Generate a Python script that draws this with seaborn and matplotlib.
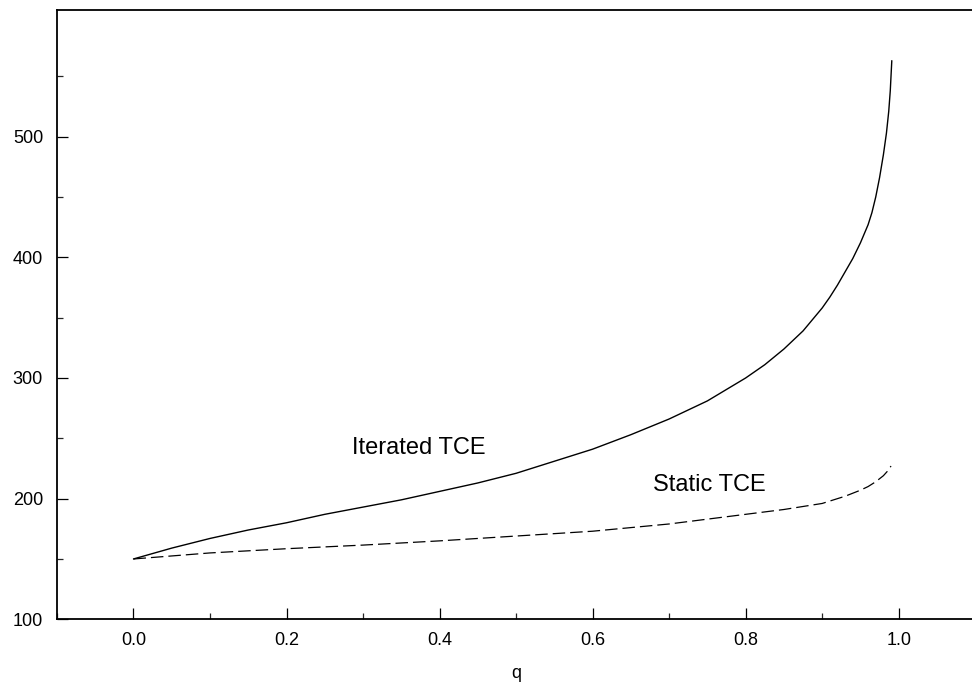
import pandas as pd
import matplotlib
matplotlib.use("Agg")
import matplotlib.pyplot as plt
import seaborn as sns
from matplotlib.ticker import MultipleLocator, FixedLocator

# valores
q_iterated = [0.0, 0.05, 0.1, 0.15, 0.2, 0.25, 0.3, 0.35, 0.4, 0.45, 0.5, 0.55,
              0.6, 0.65, 0.7, 0.75, 0.8, 0.825, 0.85, 0.875, 0.9, 0.91, 0.92,
              0.93, 0.94, 0.95, 0.96, 0.965, 0.97, 0.975, 0.98, 0.984, 0.987,
              0.989, 0.991]
tce_iterated = [150, 159, 167, 174, 180, 187, 193, 199, 206, 213, 221, 231,
                241, 253, 266, 281, 300, 311, 324, 339, 358, 367, 377,
                388, 399, 412, 427, 437, 450, 466, 485, 503, 521,
                538, 563]

q_static = [0.0, 0.1, 0.2, 0.3, 0.4, 0.5, 0.6, 0.7, 0.8, 0.85, 0.9, 0.93,
            0.95, 0.96, 0.97, 0.98, 0.985, 0.99]
tce_static = [150, 155, 158.5, 161.5, 165, 169, 173, 179, 187, 191, 196, 202,
              207, 210, 214, 219, 222.5, 227]

x_label = "q"
label_iterated = "Iterated TCE"
label_static = "Static TCE"
x_ticks = [0.0, 0.2, 0.4, 0.6, 0.8, 1.0]
y_ticks = [100, 200, 300, 400, 500]
y_minor = [150, 250, 350, 450, 550]

df_it = pd.DataFrame({"q": q_iterated, "tce": tce_iterated})
df_st = pd.DataFrame({"q": q_static, "tce": tce_static})

sns.set_theme(style="ticks")
plt.rcParams['font.family'] = ['Liberation Sans', 'DejaVu Sans']

fig = plt.figure(figsize=(9.72, 6.84), dpi=100)
ax = fig.add_axes([0.0586, 0.0946, 0.9447, 0.8908])

sns.lineplot(data=df_it, x="q", y="tce", ax=ax, color="black", linewidth=1.0,
             estimator=None, sort=False)
sns.lineplot(data=df_st, x="q", y="tce", ax=ax, color="black", linewidth=0.9,
             estimator=None, sort=False)
ax.lines[1].set_dashes([10, 4])

ax.text(0.373, 242, label_iterated, fontsize=17, ha="center", va="center", color="black")
ax.text(0.752, 211.5, label_static, fontsize=17, ha="center", va="center", color="black")

ax.set_xlim(-0.1, 1.1)
ax.set_ylim(100, 605)
ax.set_xticks(x_ticks)
ax.set_xticklabels([f"{v:.1f}" for v in x_ticks])
ax.set_yticks(y_ticks)
ax.set_yticklabels([str(v) for v in y_ticks])
ax.xaxis.set_minor_locator(MultipleLocator(0.1))
ax.yaxis.set_minor_locator(FixedLocator(y_minor))

ax.tick_params(axis="both", which="major", direction="in", length=8, width=0.9,
               labelsize=13, colors="black", pad=9)
ax.tick_params(axis="both", which="minor", direction="in", length=4, width=0.9)
ax.tick_params(axis="y", which="major", pad=10)

for s in ax.spines.values():
    s.set_linewidth(1.3)
    s.set_color("black")

ax.set_xlabel(x_label, fontsize=13, labelpad=12, color="black")
ax.set_ylabel("")

fig.savefig("out.png", dpi=100)
plt.close(fig)
